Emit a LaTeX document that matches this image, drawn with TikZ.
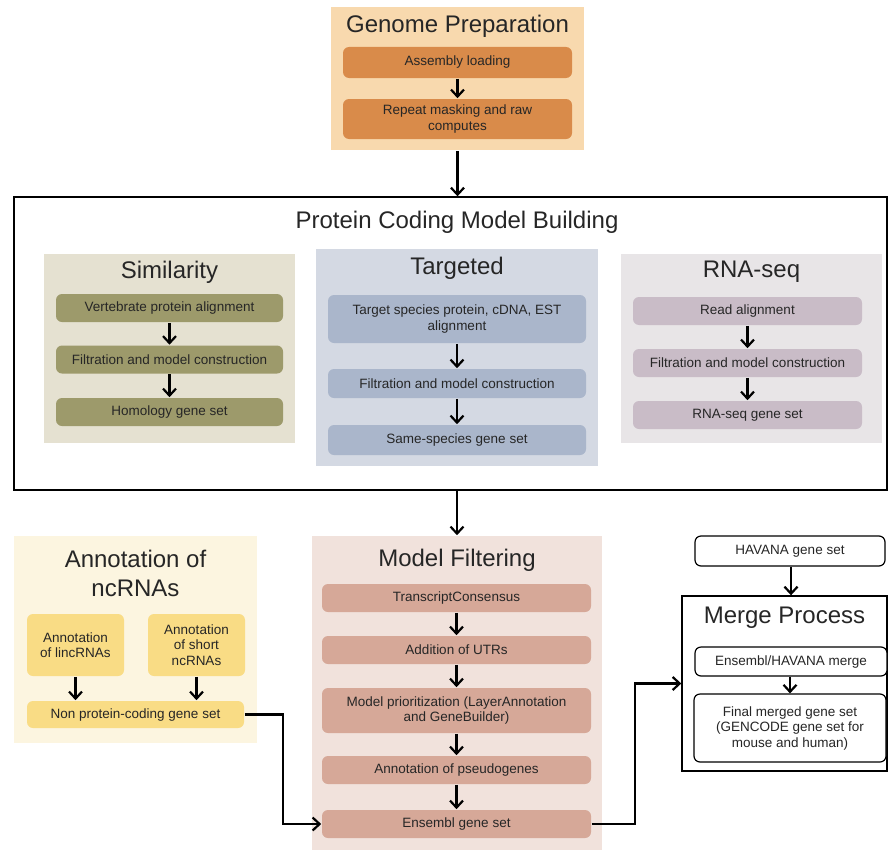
\documentclass[tikz,border=0pt]{standalone}
\usepackage{fontspec}
\setmainfont{Liberation Sans}
\usetikzlibrary{arrows.meta}

\definecolor{txt}{HTML}{262626}
\definecolor{gpback}{HTML}{F8D9AE}
\definecolor{gpbox}{HTML}{D98B4A}
\definecolor{simback}{HTML}{E5E1D1}
\definecolor{simbox}{HTML}{9D9A6B}
\definecolor{tarback}{HTML}{D4D9E3}
\definecolor{tarbox}{HTML}{AAB6CB}
\definecolor{rnaback}{HTML}{E8E5E7}
\definecolor{rnabox}{HTML}{C9BCC7}
\definecolor{ncback}{HTML}{FCF5E0}
\definecolor{ncbox}{HTML}{F9DC85}
\definecolor{mfback}{HTML}{F1E2DC}
\definecolor{mfbox}{HTML}{D6A898}

\begin{document}
\begin{tikzpicture}[x=1pt, y=-1pt, text=txt, line width=1.6pt,
  >={Straight Barb[length=7pt, width=13pt]}]

\tikzstyle{panel}=[draw=none, inner sep=0pt]
\tikzstyle{step box}=[rounded corners=6pt, inner sep=1pt, align=center,
  font=\fontsize{13.5}{15.5}\selectfont, minimum height=28pt]
\tikzstyle{white box}=[step box, draw=black, line width=1.2pt, fill=white]
\tikzstyle{title}=[font=\fontsize{24}{29}\selectfont, align=center, inner sep=0pt]
\tikzstyle{link}=[->, line width=2.2pt, black]

\useasboundingbox (0,0) rectangle (888,851);

\node[panel, fill=gpback, minimum width=253pt, minimum height=143pt] (gp) at (457.5,78.5) {};
\node[title] (gpTitle) at (457.5,26) {Genome Preparation};
\node[step box, fill=gpbox, minimum width=229pt, minimum height=31pt] (gp1) at (457.5,62.5) {Assembly loading};
\node[step box, fill=gpbox, minimum width=229pt, minimum height=40pt] (gp2) at (457.5,119) {Repeat masking and raw\\computes};

\node[draw=black, line width=1.4pt, minimum width=873pt, minimum height=293pt, inner sep=0pt] (pc) at (450.5,343.5) {};
\node[title] (pcTitle) at (457,222) {Protein Coding Model Building};

\node[panel, fill=simback, minimum width=251pt, minimum height=189pt] (sim) at (169.5,348.5) {};
\node[title] (simTitle) at (169.5,272) {Similarity};
\node[step box, fill=simbox, minimum width=227pt] (sim1) at (169.5,308) {Vertebrate protein alignment};
\node[step box, fill=simbox, minimum width=227pt] (sim2) at (169.5,359.5) {Filtration and model construction};
\node[step box, fill=simbox, minimum width=227pt] (sim3) at (169.5,412) {Homology gene set};

\node[panel, fill=tarback, minimum width=282pt, minimum height=217pt] (tar) at (457,357.5) {};
\node[title] (tarTitle) at (457,268) {Targeted};
\node[step box, fill=tarbox, minimum width=258pt, minimum height=48pt] (tar1) at (457,319) {Target species protein, cDNA, EST\\alignment};
\node[step box, fill=tarbox, minimum width=258pt, minimum height=29pt] (tar2) at (457,383.5) {Filtration and model construction};
\node[step box, fill=tarbox, minimum width=258pt, minimum height=30pt] (tar3) at (457,440) {Same-species gene set};

\node[panel, fill=rnaback, minimum width=261pt, minimum height=189pt] (rna) at (751.5,348.5) {};
\node[title] (rnaTitle) at (751.5,272) {RNA-seq};
\node[step box, fill=rnabox, minimum width=229pt] (rna1) at (747.5,311) {Read alignment};
\node[step box, fill=rnabox, minimum width=229pt] (rna2) at (747.5,363) {Filtration and model construction};
\node[step box, fill=rnabox, minimum width=229pt] (rna3) at (747.5,415) {RNA-seq gene set};

\node[panel, fill=ncback, minimum width=243pt, minimum height=207pt] (nc) at (135.5,639.5) {};
\node[title] (ncTitle) at (135.5,573) {Annotation of\\ncRNAs};
\node[step box, fill=ncbox, minimum width=97pt, minimum height=62pt] (nc1) at (75.5,645) {Annotation\\of lincRNAs};
\node[step box, fill=ncbox, minimum width=97pt, minimum height=62pt] (nc2) at (196.5,645) {Annotation\\of short\\ncRNAs};
\node[step box, fill=ncbox, minimum width=217pt, minimum height=27pt] (nc3) at (135.5,714.5) {Non protein-coding gene set};

\node[panel, fill=mfback, minimum width=290pt, minimum height=314pt] (mf) at (457,693) {};
\node[title] (mfTitle) at (457,560) {Model Filtering};
\node[step box, fill=mfbox, minimum width=269pt] (mf1) at (456.5,598) {TranscriptConsensus};
\node[step box, fill=mfbox, minimum width=269pt] (mf2) at (456.5,650) {Addition of UTRs};
\node[step box, fill=mfbox, minimum width=269pt, minimum height=45pt] (mf3) at (456.5,710.5) {Model prioritization (LayerAnnotation\\and GeneBuilder)};
\node[step box, fill=mfbox, minimum width=269pt] (mf4) at (456.5,770) {Annotation of pseudogenes};
\node[step box, fill=mfbox, minimum width=269pt] (mf5) at (456.5,824) {Ensembl gene set};

\node[white box, minimum width=190pt, minimum height=30pt] (hav) at (790,551) {HAVANA gene set};
\node[draw=black, line width=1.4pt, minimum width=205pt, minimum height=175pt, inner sep=0pt] (mp) at (784.5,683.5) {};
\node[title] (mpTitle) at (784.5,618) {Merge Process};
\node[white box, minimum width=192pt, minimum height=29pt] (mp1) at (791,661.5) {Ensembl/HAVANA merge};
\node[white box, minimum width=192pt, minimum height=68pt] (mp2) at (790,728) {Final merged gene set\\(GENCODE gene set for\\mouse and human)};

\draw[link] (gp1) -- (gp2);
\draw[link] (gp.south) -- (gp.south |- pc.north);
\draw[link] (sim1) -- (sim2);
\draw[link] (sim2) -- (sim3);
\draw[link] (tar1) -- (tar2);
\draw[link] (tar2) -- (tar3);
\draw[link] (rna1) -- (rna2);
\draw[link] (rna2) -- (rna3);
\draw[link] (pc.south -| mf.north) -- (mf.north);
\draw[link] (nc1.south) -- (nc1.south |- nc3.north);
\draw[link] (nc2.south) -- (nc2.south |- nc3.north);
\draw[link] (mf1) -- (mf2);
\draw[link] (mf2) -- (mf3);
\draw[link] (mf3) -- (mf4);
\draw[link] (mf4) -- (mf5);
\draw[link] (nc3.east) -| (283,770) |- (mf5.west);
\draw[link] (mf5.east) -| (635,720) |- (mp.west);
\draw[link] (hav.south -| mp1.north) -- (mp.north -| mp1.north);
\draw[link] (mp1.south -| mp2.north) -- (mp2.north);
\end{tikzpicture}
\end{document}
